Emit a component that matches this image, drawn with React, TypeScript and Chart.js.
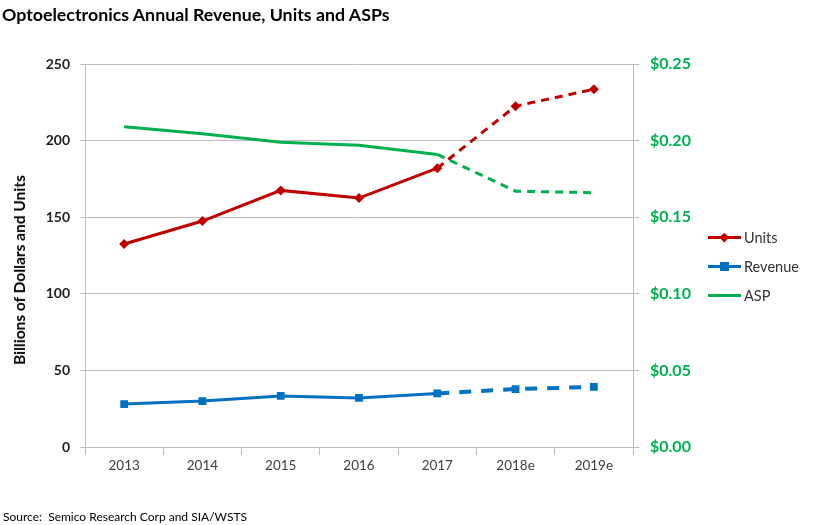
import React, { useEffect, useRef } from "react";
import { Chart, registerables } from "chart.js";

Chart.register(...registerables);

const years = ["2013", "2014", "2015", "2016", "2017", "2018e", "2019e"];
const units = [132.5, 147.5, 167.5, 162.5, 182, 222.5, 233.5];
const revenue = [28, 30, 33.3, 32, 35, 37.8, 39.2];
const asp = [0.209, 0.2045, 0.199, 0.197, 0.191, 0.167, 0.166];
const leftMax = 250;
const leftStep = 50;
const rightMax = 0.25;
const rightStep = 0.05;

const RED = "#c00000";
const BLUE = "#0070c0";
const GREEN = "#00b050";
const GRID = "#bfbfbf";
const FONT = "Lato, 'Open Sans', sans-serif";

const forecastFrom = 4; // index of 2017: segments after it are dashed

export default function App() {
  const ref = useRef<HTMLCanvasElement | null>(null);

  useEffect(() => {
    if (!ref.current) return;
    const dash = (d: number[]) => (ctx: any) =>
      ctx.p0DataIndex >= forecastFrom ? d : undefined;
    const chart = new Chart(ref.current, {
      type: "line",
      data: {
        labels: years,
        datasets: [
          {
            label: "Units",
            data: units,
            yAxisID: "y",
            borderColor: RED,
            backgroundColor: RED,
            borderWidth: 3,
            pointStyle: "rectRot",
            pointRadius: 5,
            pointBorderWidth: 0,
            segment: { borderDash: dash([8, 6]) },
          },
          {
            label: "Revenue",
            data: revenue,
            yAxisID: "y",
            borderColor: BLUE,
            backgroundColor: BLUE,
            borderWidth: 3,
            pointStyle: "rect",
            pointRadius: 5.5,
            pointBorderWidth: 0,
            segment: { borderDash: dash([12, 10]), borderWidth: (ctx: any) => (ctx.p0DataIndex >= forecastFrom ? 4 : 3) } as any,
          },
          {
            label: "ASP",
            data: asp,
            yAxisID: "y1",
            borderColor: GREEN,
            backgroundColor: GREEN,
            borderWidth: 3,
            pointRadius: 0,
            segment: { borderDash: dash([8, 6]) },
          },
        ],
      },
      options: {
        responsive: false,
        animation: false,
        devicePixelRatio: 1,
        layout: { padding: { left: 10, top: 64, right: 125, bottom: 48 } },
        plugins: { legend: { display: false }, tooltip: { enabled: false }, title: { display: false } },
        scales: {
          x: {
            type: "category",
            offset: true,
            grid: { offset: true, drawOnChartArea: false, drawTicks: true, tickLength: 8, color: GRID },
            border: { color: GRID },
            ticks: { color: "#404040", font: { family: FONT, size: 13.5 }, padding: 3, maxRotation: 0 },
            afterFit: (s: any) => { s.height = 30; },
          },
          y: {
            position: "left",
            min: 0,
            max: leftMax,
            grid: { color: GRID, tickLength: 5 },
            border: { color: GRID },
            ticks: { stepSize: leftStep, color: "#222", font: { family: FONT, size: 14, weight: "bold" }, padding: 10 },
            afterFit: (s: any) => { s.width = 75; },
          },
          y1: {
            position: "right",
            min: 0,
            max: rightMax,
            grid: { drawOnChartArea: false, color: GRID, tickLength: 6 },
            border: { color: GRID },
            ticks: {
              stepSize: rightStep,
              color: GREEN,
              font: { family: FONT, size: 16, weight: "bold" },
              padding: 11,
              callback: (v: any) => "$" + Number(v).toFixed(2),
            },
            afterFit: (s: any) => { s.width = 60; },
          },
        },
      },
    });
    return () => chart.destroy();
  }, []);

  const legendItems = [
    { label: "Units", color: RED, marker: "diamond" },
    { label: "Revenue", color: BLUE, marker: "square" },
    { label: "ASP", color: GREEN, marker: "none" },
  ];

  return (
    <div style={{ position: "absolute", left: 0, top: 0, width: 818, height: 525, background: "#fff", fontFamily: FONT, overflow: "hidden" }}>
      <canvas ref={ref} width={818} height={525} style={{ position: "absolute", left: 0, top: 0 }} />
      <div style={{ position: "absolute", left: 2, top: 3, fontSize: 17.8, fontWeight: 700, color: "#000", whiteSpace: "nowrap" }}>
        Optoelectronics Annual Revenue, Units and ASPs
      </div>
      <div
        style={{
          position: "absolute",
          left: 19,
          top: 270,
          transform: "translate(-50%, -50%) rotate(-90deg)",
          fontSize: 15.5,
          fontWeight: 700,
          color: "#000",
          whiteSpace: "nowrap",
        }}
      >
        Billions of Dollars and Units
      </div>
      {legendItems.map((it, i) => (
        <div key={it.label} style={{ position: "absolute", left: 708, top: 237 + i * 29 - 9, height: 18, display: "flex", alignItems: "center" }}>
          <div style={{ position: "relative", width: 33, height: 18 }}>
            <div style={{ position: "absolute", left: 0, top: 7.5, width: 33, height: 3.5, background: it.color }} />
            {it.marker === "diamond" && (
              <div style={{ position: "absolute", left: 13, top: 6, width: 6.5, height: 6.5, background: it.color, transform: "rotate(45deg)" }} />
            )}
            {it.marker === "square" && (
              <div style={{ position: "absolute", left: 12, top: 5, width: 9, height: 9, background: it.color }} />
            )}
          </div>
          <span style={{ marginLeft: 3, fontSize: 14.5, color: "#333" }}>{it.label}</span>
        </div>
      ))}
      <div style={{ position: "absolute", left: 3, top: 509, fontSize: 12, color: "#000", whiteSpace: "nowrap" }}>
        Source:&nbsp; Semico Research Corp and SIA/WSTS
      </div>
    </div>
  );
}
